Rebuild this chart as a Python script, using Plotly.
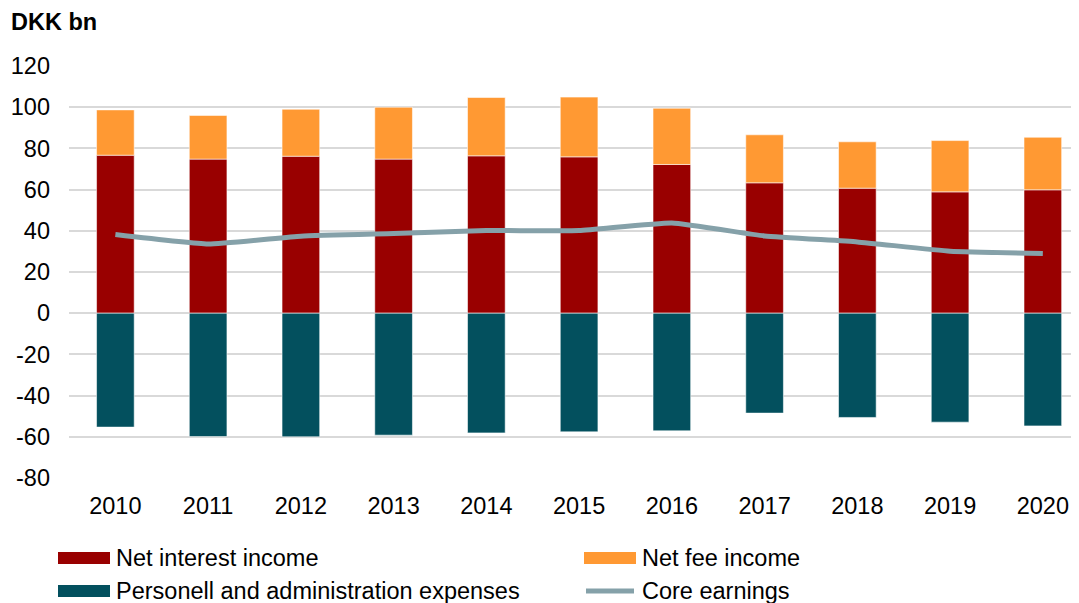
import plotly.graph_objects as go

years = ["2010", "2011", "2012", "2013", "2014", "2015", "2016", "2017", "2018", "2019", "2020"]
net_interest = [76.7, 74.8, 76.2, 74.8, 76.4, 75.9, 72.2, 63.3, 60.7, 58.9, 59.9]
net_fee_total = [98.7, 96.0, 99.0, 100.0, 104.7, 104.9, 99.5, 86.6, 83.2, 83.8, 85.4]
net_fee = [round(t - i, 1) for t, i in zip(net_fee_total, net_interest)]
expenses = [-55.3, -59.9, -60.0, -59.2, -58.1, -57.6, -57.1, -48.5, -50.6, -52.9, -54.7]
core_earnings = [38.2, 33.6, 37.4, 38.7, 40.1, 40.1, 43.8, 37.5, 34.6, 30.1, 29.0]
y_ticks = [-80, -60, -40, -20, 0, 20, 40, 60, 80, 100, 120]
y_tick_labels = ["-80", "-60", "-40", "-20", "0", "20", "40", "60", "80", "100", "120"]

C_INT = "#990000"
C_FEE = "#FF9933"
C_EXP = "#03505E"
C_CORE = "#85A1A9"
FONT = "Liberation Sans, Arial, sans-serif"
FS = 23.5
bar_line = dict(color="rgba(255,255,255,0.55)", width=1)

fig = go.Figure()
fig.add_bar(x=years, y=net_interest, name="Net interest income",
            marker=dict(color=C_INT, line=bar_line), showlegend=False)
fig.add_bar(x=years, y=net_fee, name="Net fee income",
            marker=dict(color=C_FEE, line=bar_line), showlegend=False)
fig.add_bar(x=years, y=expenses, name="Personell and administration expenses",
            marker=dict(color=C_EXP, line=bar_line), showlegend=False)
fig.add_scatter(x=years, y=core_earnings, name="Core earnings", mode="lines",
                line=dict(color=C_CORE, width=5, shape="spline", smoothing=0.4),
                showlegend=False)

# page has an 8px body margin, so the figure is 16px smaller and offsets reduced by 8
fig.update_layout(
    width=1071, height=595,
    barmode="relative", bargap=0.594,
    plot_bgcolor="white", paper_bgcolor="white",
    margin=dict(l=61, r=0, t=58, b=125),
    font=dict(family=FONT, size=FS, color="#000000"),
    xaxis=dict(type="category", range=[-0.5, 10.39], showgrid=False, showline=False,
               zeroline=False, ticks="", tickfont=dict(size=FS), ticklabelstandoff=11),
    yaxis=dict(range=[-80, 120], tickvals=y_ticks, ticktext=y_tick_labels,
               showgrid=True, gridcolor="#D9D9D9",
               gridwidth=1.5, zeroline=False, showline=False, ticks="",
               tickfont=dict(size=FS), ticklabelstandoff=18),
)


# page px -> paper coords
def px_x(p):
    return (p - 69) / 1010


def px_y(p):
    return (478 - p) / 412


fig.add_annotation(text="<b>DKK bn</b>", xref="paper", yref="paper",
                   x=px_x(9), y=px_y(22), xanchor="left", yanchor="middle",
                   showarrow=False, font=dict(size=FS))

legend_items = [
    ("Net interest income", C_INT, "bar", 58, 558),
    ("Net fee income", C_FEE, "bar", 584, 558),
    ("Personell and administration expenses", C_EXP, "bar", 58, 591),
    ("Core earnings", C_CORE, "line", 584, 591),
]
for name, col, kind, x0, yc in legend_items:
    if kind == "bar":
        fig.add_shape(type="rect", xref="paper", yref="paper",
                      x0=px_x(x0), x1=px_x(x0 + 52), y0=px_y(yc - 6), y1=px_y(yc + 6),
                      fillcolor=col, line=dict(width=0))
    else:
        fig.add_shape(type="line", xref="paper", yref="paper",
                      x0=px_x(x0 + 2), x1=px_x(x0 + 50), y0=px_y(yc), y1=px_y(yc),
                      line=dict(color=col, width=5))
    fig.add_annotation(text=name, xref="paper", yref="paper",
                       x=px_x(x0 + 56), y=px_y(yc), xanchor="left", yanchor="middle",
                       showarrow=False, font=dict(size=FS))

fig.write_html("out.html")
